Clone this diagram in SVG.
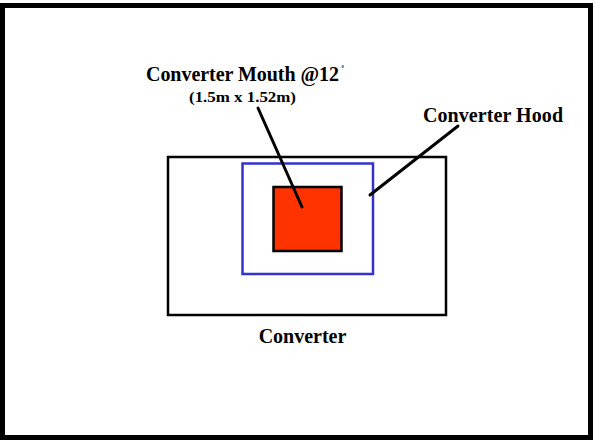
<svg xmlns="http://www.w3.org/2000/svg" width="595" height="440" viewBox="0 0 595 440">
<style>
.lbl{font-family:"Liberation Serif","Times New Roman",serif;font-weight:bold;fill:#000}
.ln{stroke:#000;stroke-width:3;fill:none;stroke-linecap:round}
</style>
<rect x="0" y="0" width="595" height="440" fill="#fff"/>
<rect x="2.5" y="5.5" width="588" height="432" fill="none" stroke="#000" stroke-width="5"/>
<g id="converter">
<rect x="168" y="157" width="278" height="158" fill="none" stroke="#000" stroke-width="2.5"/>
<text class="lbl" x="302.5" y="343" font-size="20" text-anchor="middle">Converter</text>
</g>
<g id="hood">
<rect x="242.5" y="163.5" width="130.5" height="110.5" fill="none" stroke="#3333cc" stroke-width="2.5"/>
<text class="lbl" x="423" y="122" font-size="20" textLength="140">Converter Hood</text>
</g>
<g id="mouth">
<rect x="273.5" y="187" width="68" height="64" fill="#ff3300" stroke="#000" stroke-width="2.5"/>
<text class="lbl" x="146" y="81" font-size="20" textLength="193">Converter Mouth @12</text>
<text class="lbl" x="341" y="73" font-size="10">˚</text>
<text class="lbl" x="189" y="102" font-size="14" textLength="107" lengthAdjust="spacingAndGlyphs">(1.5m x 1.52m)</text>
</g>
<g id="connectors">
<line class="ln" x1="258" y1="108" x2="302" y2="207"/>
<line class="ln" x1="458" y1="126" x2="370" y2="195"/>
</g>
</svg>
